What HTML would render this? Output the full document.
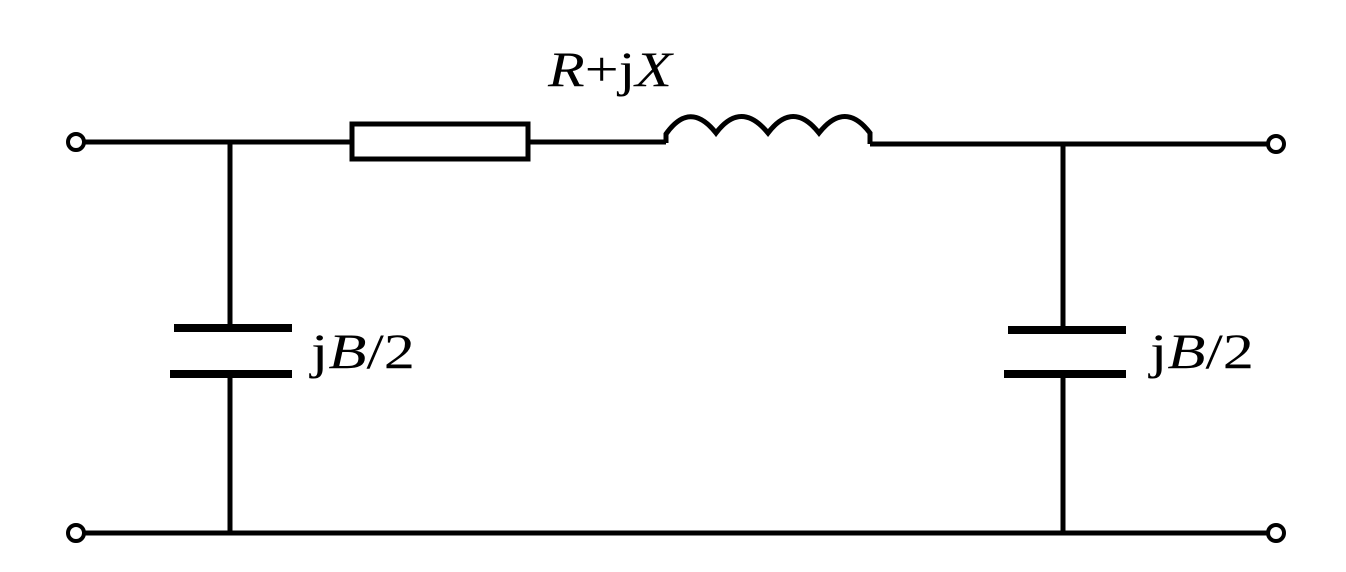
<!DOCTYPE html>
<html><head><style>
html,body{margin:0;padding:0;background:#fff;}
</style></head><body>
<svg width="1346" height="567" viewBox="0 0 1346 567" xmlns="http://www.w3.org/2000/svg">
<g stroke="#000" stroke-width="5" fill="none">
<line x1="84" y1="142" x2="350" y2="142"/>
<rect x="352" y="124" width="176" height="35"/>
<line x1="530" y1="142" x2="666" y2="142"/>
<path d="M666 143 L666 134 Q690 100 716 133 Q741 100 768 133 Q793 100 819 133 Q845 100 870 133 L870 144"/>
<line x1="870" y1="144" x2="1267" y2="144"/>
<circle cx="76" cy="142" r="8" stroke-width="4"/>
<circle cx="1276" cy="144" r="8" stroke-width="4"/>
<circle cx="76" cy="533" r="8" stroke-width="4"/>
<circle cx="1276" cy="533" r="8" stroke-width="4"/>
<line x1="84" y1="533" x2="1268" y2="533"/>
<line x1="230" y1="142" x2="230" y2="329"/>
<line x1="230" y1="373" x2="230" y2="533"/>
<line x1="1063" y1="144" x2="1063" y2="330"/>
<line x1="1063" y1="374" x2="1063" y2="533"/>
</g>
<g stroke="#000" stroke-width="8">
<line x1="174" y1="328" x2="292" y2="328"/>
<line x1="170" y1="374" x2="292" y2="374"/>
<line x1="1008" y1="330" x2="1126" y2="330"/>
<line x1="1004" y1="374" x2="1126" y2="374"/>
</g>
<g font-family="Liberation Serif, serif" font-size="50" fill="#000">
<text x="548" y="86" textLength="124" lengthAdjust="spacingAndGlyphs"><tspan font-style="italic">R</tspan>+j<tspan font-style="italic">X</tspan></text>
<text x="311" y="368" textLength="104" lengthAdjust="spacingAndGlyphs">j<tspan font-style="italic">B</tspan>/2</text>
<text x="1150" y="368" textLength="104" lengthAdjust="spacingAndGlyphs">j<tspan font-style="italic">B</tspan>/2</text>
</g>
</svg>
</body></html>
